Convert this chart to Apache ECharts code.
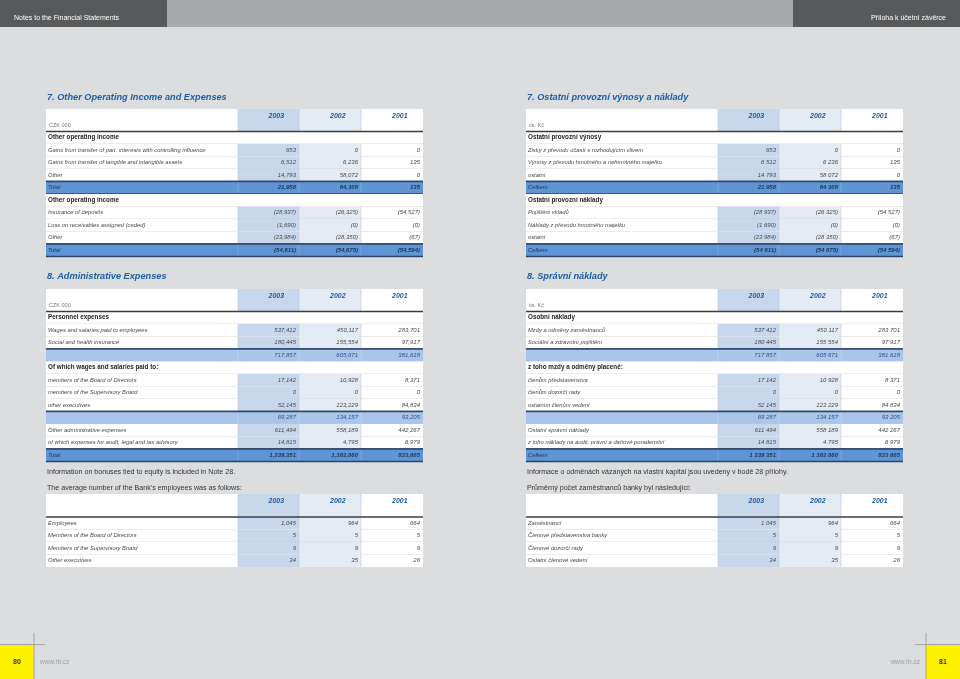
<!DOCTYPE html>
<html>
<head>
<meta charset="utf-8">
<script src="https://cdn.jsdelivr.net/npm/echarts@6/dist/echarts.min.js"></script>
<style>
  html, body { margin: 0; padding: 0; background: #dcdddf; }
  #main { width: 960px; height: 679px; }
</style>
</head>
<body>
<div id="main"></div>
<script>
// ---- data ----
const years = ['2003', '2002', '2001']

const incomeValues = [[653, 0, 0], [6512, 6236, 135], [14793, 58072, 0]]
const incomeTotal = [21958, 64308, 135]
const expenseValues = [[-28937, -26325, -54527], [-1690, -0, -0], [-23984, -28350, -67]]
const expenseTotal = [-54611, -54675, -54594]

const personnelValues = [[537412, 450117, 283701], [180445, 155554, 97917]]
const personnelSubtotal = [717857, 605671, 381618]
const paidToValues = [[17142, 10928, 8371], [0, 0, 0], [52145, 123229, 84834]]
const paidToSubtotal = [69287, 134157, 93205]
const otherAdminValues = [[611494, 558189, 442267], [14815, 4795, 6979]]
const adminTotal = [1339351, 1163860, 823885]

const staffValues = [[1045, 964, 664], [5, 5, 5], [9, 9, 9], [34, 35, 26]]

const en = {
  header: 'Notes to the Financial Statements',
  unit: 'CZK 000',
  title7: '7. Other Operating Income and Expenses',
  incomeHead: 'Other operating income',
  incomeLabels: ['Gains from transfer of part. interests with controlling influence', 'Gains from transfer of tangible and intangible assets', 'Other'],
  expenseHead: 'Other operating income',
  expenseLabels: ['Insurance of deposits', 'Loss on receivables assigned (ceded)', 'Other'],
  total: 'Total',
  title8: '8. Administrative Expenses',
  personnelHead: 'Personnel expenses',
  personnelLabels: ['Wages and salaries paid to employees', 'Social and health insurance'],
  paidToHead: 'Of which wages and salaries paid to:',
  paidToLabels: ['members of the Board of Directors', 'members of the Supervisory Board', 'other executives'],
  otherAdminLabels: ['Other administrative expenses', 'of which expenses for audit, legal and tax advisory'],
  note1: 'Information on bonuses tied to equity is included in Note 28.',
  note2: 'The average number of the Bank\u2019s employees was as follows:',
  staffLabels: ['Employees', 'Members of the Board of Directors', 'Members of the Supervisory Board', 'Other executives'],
  sep: ',', page: '80'
}
const cz = {
  header: 'Příloha k účetní závěrce',
  unit: 'tis. Kč',
  title7: '7. Ostatní provozní výnosy a náklady',
  incomeHead: 'Ostatní provozní výnosy',
  incomeLabels: ['Zisky z převodu účastí s rozhodujícím vlivem', 'Výnosy z převodu hmotného a nehmotného majetku', 'ostatní'],
  expenseHead: 'Ostatní provozní náklady',
  expenseLabels: ['Pojištění vkladů', 'Náklady z převodu hmotného majetku', 'ostatní'],
  total: 'Celkem',
  title8: '8. Správní náklady',
  personnelHead: 'Osobní náklady',
  personnelLabels: ['Mzdy a odměny zaměstnanců', 'Sociální a zdravotní pojištění'],
  paidToHead: 'z toho mzdy a odměny placené:',
  paidToLabels: ['členům představenstva', 'členům dozorčí rady', 'ostatním členům vedení'],
  otherAdminLabels: ['Ostatní správní náklady', 'z toho náklady na audit, právní a daňové poradenství'],
  note1: 'Informace o odměnách vázaných na vlastní kapitál jsou uvedeny v bodě 28 přílohy.',
  note2: 'Průměrný počet zaměstnanců banky byl následující:',
  staffLabels: ['Zaměstnanci', 'Členové představenstva banky', 'Členové dozorčí rady', 'Ostatní členové vedení'],
  sep: ' ', page: '81'
}

// ---- helpers ----
const FONT = '"Liberation Sans", "DejaVu Sans", sans-serif'
const ROW = 12.5
const SHADE1 = '#c8d7ec', SHADE2 = '#e4ebf5'
const NAVY = '#2a4668'
let els = []

function fmt(v, sep) {
  let neg = v < 0 || (v === 0 && 1 / v < 0)
  let s = String(Math.abs(v)).replace(/\B(?=(\d{3})+(?!\d))/g, sep)
  return neg ? '(' + s + ')' : s
}
function rect(x, y, w, h, fill) {
  els.push({ type: 'rect', silent: true, shape: { x: x, y: y, width: w, height: h }, style: { fill: fill } })
}
function line(x1, y1, x2, y2, stroke, w) {
  els.push({ type: 'line', silent: true, shape: { x1: x1, y1: y1, x2: x2, y2: y2 }, style: { stroke: stroke, lineWidth: w } })
}
function text(t, x, y, size, fill, opts) {
  opts = opts || {}
  els.push({ type: 'text', silent: true, style: {
    text: t, x: x, y: y, fill: fill,
    font: (opts.style || 'normal') + ' ' + (opts.weight || 'normal') + ' ' + size + 'px ' + FONT,
    textAlign: opts.align || 'left', textVerticalAlign: 'middle'
  } })
}

function table(ox, top, headH, unit, rows, sep) {
  const L = ox + 46, R = ox + 423
  const cx = [ox + 238, ox + 299, ox + 361, R]
  // header
  rect(L, top, R - L, headH, '#ffffff')
  rect(cx[0], top, cx[1] - cx[0], headH, SHADE1)
  rect(cx[1], top, cx[2] - cx[1], headH, SHADE2)
  for (let i = 0; i < 3; i++) {
    text(years[i], (cx[i] + cx[i + 1]) / 2, top + 7.5, 7, '#1f5a9c', { style: 'italic', weight: 'bold' })
    line(cx[i], top, cx[i], top + headH, '#b9c5d6', 0.6)
  }
  if (unit) text(unit, L + 3, top + headH - 6.5, 5.5, '#7a7a7a')
  let y = top + headH
  rows.forEach(function (r, k) {
    if (r.type === 'section') {
      rect(L, y, R - L, ROW, '#ffffff')
      text(r.label, L + 2, y + ROW / 2, 6.3, '#1e1e1e', { weight: 'bold' })
    } else if (r.type === 'item') {
      rect(L, y, R - L, ROW, '#ffffff')
      rect(cx[0], y, cx[1] - cx[0], ROW, SHADE1)
      rect(cx[1], y, cx[2] - cx[1], ROW, SHADE2)
      text(r.label, L + 2, y + ROW / 2, 5.8, '#4a4a4a', { style: 'italic' })
      for (let i = 0; i < 3; i++) {
        text(fmt(r.values[i], sep), cx[i + 1] - 3, y + ROW / 2, 6, '#4a4a4a', { style: 'italic', align: 'right' })
        line(cx[i], y, cx[i], y + ROW, '#c2cad6', 0.6)
      }
    } else {
      const total = r.type === 'total'
      rect(L, y, R - L, ROW, total ? '#5f95d4' : '#a9c6ea')
      if (r.label) text(r.label, L + 2, y + ROW / 2, 5.8, '#1c3558', { style: 'italic' })
      for (let i = 0; i < 3; i++) {
        text(fmt(r.values[i], sep), cx[i + 1] - 3, y + ROW / 2, 6, total ? '#1c3558' : '#2e5285',
          { style: 'italic', weight: total ? 'bold' : 'normal', align: 'right' })
        line(cx[i], y, cx[i], y + ROW, total ? '#8fb3e0' : '#c4d6ee', 0.6)
      }
    }
    // separator under the row
    const next = rows[k + 1]
    if (r.type === 'total' || (next && (next.type === 'sub' || next.type === 'total'))) {
      line(L, y + ROW, R, y + ROW, NAVY, 1.4)
    } else if (next) {
      line(L, y + ROW, R, y + ROW, '#c9c9c9', 0.6)
    }
    if (r.type === 'sub' || r.type === 'total') line(L, y, R, y, NAVY, 1.4)
    y += ROW
  })
  line(L, top + headH, R, top + headH, '#3c3c3c', 1.4)
}

function page(ox, t) {
  const L = ox + 47
  text(t.title7, L, 97, 9.2, '#1d5fa6', { style: 'italic', weight: 'bold' })
  const rows7 = []
  rows7.push({ type: 'section', label: t.incomeHead })
  t.incomeLabels.forEach(function (l, i) { rows7.push({ type: 'item', label: l, values: incomeValues[i] }) })
  rows7.push({ type: 'total', label: t.total, values: incomeTotal })
  rows7.push({ type: 'section', label: t.expenseHead })
  t.expenseLabels.forEach(function (l, i) { rows7.push({ type: 'item', label: l, values: expenseValues[i] }) })
  rows7.push({ type: 'total', label: t.total, values: expenseTotal })
  table(ox, 109, 22.5, t.unit, rows7, t.sep)

  text(t.title8, L, 276, 9.2, '#1d5fa6', { style: 'italic', weight: 'bold' })
  const rows8 = []
  rows8.push({ type: 'section', label: t.personnelHead })
  t.personnelLabels.forEach(function (l, i) { rows8.push({ type: 'item', label: l, values: personnelValues[i] }) })
  rows8.push({ type: 'sub', label: '', values: personnelSubtotal })
  rows8.push({ type: 'section', label: t.paidToHead })
  t.paidToLabels.forEach(function (l, i) { rows8.push({ type: 'item', label: l, values: paidToValues[i] }) })
  rows8.push({ type: 'sub', label: '', values: paidToSubtotal })
  t.otherAdminLabels.forEach(function (l, i) { rows8.push({ type: 'item', label: l, values: otherAdminValues[i] }) })
  rows8.push({ type: 'total', label: t.total, values: adminTotal })
  table(ox, 289, 22.5, t.unit, rows8, t.sep)

  text(t.note1, L, 472, 7.1, '#333333')
  text(t.note2, L, 488, 7.1, '#333333')
  const rowsS = t.staffLabels.map(function (l, i) { return { type: 'item', label: l, values: staffValues[i] } })
  table(ox, 494, 23, '', rowsS, t.sep)
}

// page header bands
rect(0, 0, 960, 27, '#a7a9ac')
rect(0, 0, 167, 27, '#58595b')
rect(793, 0, 167, 27, '#58595b')
text(en.header, 14, 18, 7, '#ffffff')
text(cz.header, 946, 18, 7, '#ffffff', { align: 'right' })

page(0, en)
page(480, cz)

// footer: page numbers and crop marks
rect(0, 645, 34, 34, '#fff200')
rect(926, 645, 34, 34, '#fff200')
line(34, 633, 34, 679, '#8a8a8a', 0.7)
line(0, 644.5, 45, 644.5, '#8a8a8a', 0.7)
line(926, 633, 926, 679, '#8a8a8a', 0.7)
line(915, 644.5, 960, 644.5, '#8a8a8a', 0.7)
text(en.page, 17, 662, 7, '#333333', { align: 'center', weight: 'bold' })
text(cz.page, 943, 662, 7, '#333333', { align: 'center', weight: 'bold' })
text('www.rb.cz', 40, 662, 6.5, '#a0a0a0')
text('www.rb.cz', 920, 662, 6.5, '#a0a0a0', { align: 'right' })

const chart = echarts.init(document.getElementById('main'), null, { renderer: 'canvas' })
chart.setOption({
  backgroundColor: '#dcdddf',
  animation: false,
  graphic: { elements: els }
})
</script>
</body>
</html>
